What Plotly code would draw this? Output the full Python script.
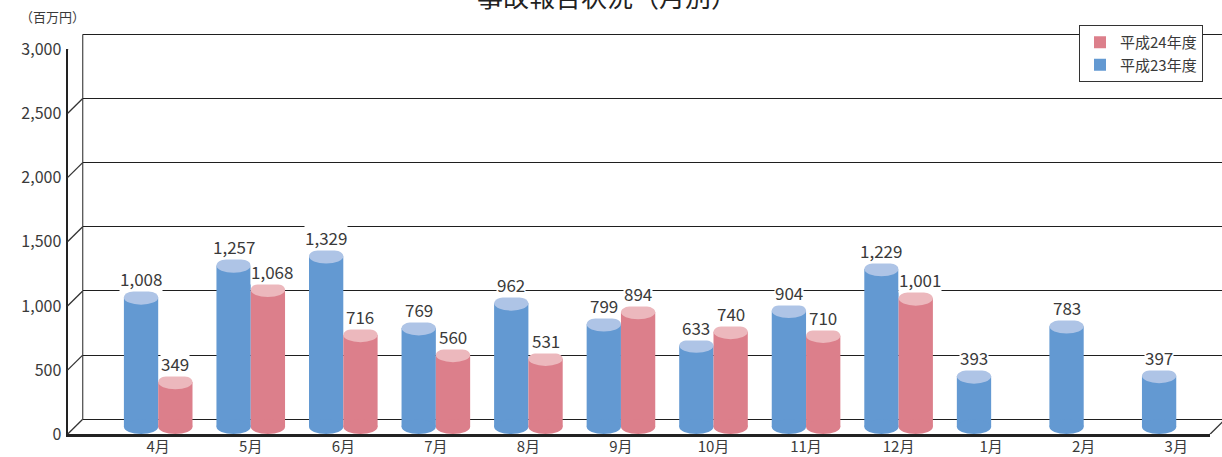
import plotly.graph_objects as go

# ---- data ----
months = ["4月", "5月", "6月", "7月", "8月", "9月", "10月", "11月", "12月", "1月", "2月", "3月"]
h23 = [1008, 1257, 1329, 769, 962, 799, 633, 904, 1229, 393, 783, 397]
h24 = [349, 1068, 716, 560, 531, 894, 740, 710, 1001, None, None, None]
series_names = ["平成23年度", "平成24年度"]
y_ticks = [0, 500, 1000, 1500, 2000, 2500, 3000]

# ---- style / geometry ----
W, H = 1222, 457
FONT = "Noto Sans CJK JP"
BLUE, BLUE_TOP = "#6399D2", "#AEC4E6"
RED, RED_TOP = "#DC7F8B", "#ECB8BD"
TXT = "#3a3a3a"

S = 64.17 / 500.0           # px per unit
FRONT0, BACK0, MID0 = 434.3, 419.3, 426.8
FRONT_X, BACK_X, FLOOR_END = 67.5, 82.7, 1210.0
CAT0, CAT_STEP = 158.2, 92.55
BAR_W = 0.3706               # in category units
BAR_W_PX = BAR_W * CAT_STEP
ELL_H = 7.3 / S              # ellipse half height in value units
DEPTH_UNITS = 15.0 / S
EXT = 2.0                    # px margin so edge gridlines are kept


def pxx(x):
    return x / W


def pyy(y):
    return 1 - y / H


def label_width(s):
    return sum(4.3 if c == "," else 9.4 for c in s)


fig = go.Figure()

# subplot 1 : back wall grid
fig.add_trace(go.Scatter(x=[], y=[], xaxis="x", yaxis="y", showlegend=False, hoverinfo="skip"))
# subplot 2 : front axis
fig.add_trace(go.Scatter(x=[], y=[], xaxis="x2", yaxis="y2", showlegend=False, hoverinfo="skip"))

idx = list(range(len(months)))
x_blue = [i - BAR_W / 2 for i in idx]
x_red = [i + BAR_W / 2 for i in idx]

fig.add_trace(go.Bar(x=x_blue, y=h23, width=BAR_W, name=series_names[0], marker=dict(color=BLUE, line=dict(width=0)),
                     xaxis="x3", yaxis="y3", hoverinfo="skip"))
fig.add_trace(go.Bar(x=x_red, y=h24, width=BAR_W, name=series_names[1], marker=dict(color=RED, line=dict(width=0)),
                     xaxis="x3", yaxis="y3", hoverinfo="skip"))

shapes = []
annotations = []
for si, (xs, vals, body, top) in enumerate([(x_blue, h23, BLUE, BLUE_TOP), (x_red, h24, RED, RED_TOP)]):
    for i, (x, v) in enumerate(zip(xs, vals)):
        if v is None:
            continue
        # bottom ellipse
        shapes.append(dict(type="circle", xref="x3", yref="y3", x0=x - BAR_W / 2, x1=x + BAR_W / 2,
                           y0=-ELL_H, y1=ELL_H, fillcolor=body, line=dict(width=0), layer="above"))
        # top ellipse
        shapes.append(dict(type="circle", xref="x3", yref="y3", x0=x - BAR_W / 2, x1=x + BAR_W / 2,
                           y0=v - ELL_H, y1=v + ELL_H, fillcolor=top, line=dict(width=0), layer="above"))
        txt = f"{v:,}"
        xshift = 0
        # push a wide label right when the taller left neighbour would be hidden by it
        if si == 1 and h23[i] is not None and h23[i] > v:
            half = label_width(txt) / 2
            if half > BAR_W_PX / 2:
                xshift = round(half - BAR_W_PX / 2 + 0.5)
        annotations.append(dict(xref="x3", yref="y3", x=x, y=v, text=txt, showarrow=False,
                                yanchor="middle", yshift=18.5, xshift=xshift, bgcolor="white", borderpad=0,
                                font=dict(family=FONT, size=17, color=TXT)))

# depth diagonals on the left wall
for t in y_ticks:
    shapes.append(dict(type="line", xref="paper", yref="y2", x0=pxx(FRONT_X), x1=pxx(BACK_X),
                       y0=t, y1=t + DEPTH_UNITS, line=dict(color="#333333", width=1.3), layer="above"))
# floor right diagonal
shapes.append(dict(type="line", xref="paper", yref="y2", x0=pxx(FLOOR_END), x1=pxx(FLOOR_END + 15),
                   y0=0, y1=DEPTH_UNITS, line=dict(color="#333333", width=1.3), layer="above"))

# title (cut off at top) and unit label
annotations.append(dict(xref="paper", yref="paper", x=pxx(606.5), y=1, text="事故報告状況（月別）",
                        showarrow=False, xanchor="center", yanchor="middle", yshift=5,
                        font=dict(family=FONT, size=26, color="#222222")))
annotations.append(dict(xref="paper", yref="paper", x=pxx(53), y=pyy(17), text="（百万円）",
                        showarrow=False, xanchor="center", yanchor="middle",
                        font=dict(family=FONT, size=13, color=TXT)))

fig.update_layout(
    width=W, height=H, autosize=False,
    margin=dict(l=0, r=0, t=0, b=0, pad=0, autoexpand=False),
    paper_bgcolor="white", plot_bgcolor="rgba(0,0,0,0)",
    barmode="overlay",
    font=dict(family=FONT, color=TXT),
    showlegend=True,
    hovermode=False,
    legend=dict(x=pxx(1079), y=pyy(25), xanchor="left", yanchor="top", traceorder="reversed",
                bgcolor="white", bordercolor="#333333", borderwidth=1,
                font=dict(family=FONT, size=15, color=TXT)),
    xaxis=dict(domain=[pxx(BACK_X), 1], range=[0, 1], visible=False, anchor="y", automargin=False),
    yaxis=dict(domain=[pyy(BACK0 + EXT), pyy(BACK0 - 385 - EXT)],
               range=[-EXT / S, 3000 + EXT / S], tickvals=y_ticks,
               showgrid=True, gridcolor="#1f1f1f", gridwidth=1.3, zeroline=False,
               showticklabels=False, showline=False,
               anchor="x", ticks="", automargin=False),
    xaxis2=dict(domain=[pxx(FRONT_X), pxx(FLOOR_END)], range=[0, 1], anchor="y2",
                showgrid=False, zeroline=False, showticklabels=False, showline=True,
                linecolor="#222222", linewidth=2.5, ticks="", automargin=False),
    yaxis2=dict(domain=[pyy(FRONT0), pyy(FRONT0 - 385)], range=[0, 3000], anchor="x2",
                tickvals=y_ticks, tickformat=",", showgrid=False, zeroline=False,
                showline=True, linecolor="#222222", linewidth=2, ticks="", ticklabelstandoff=1,
                tickfont=dict(family=FONT, size=16, color=TXT), automargin=False),
    xaxis3=dict(domain=[0, 1], range=[(0 - CAT0) / CAT_STEP, (W - CAT0) / CAT_STEP], anchor="y3",
                tickvals=idx, ticktext=months, showgrid=False, zeroline=False, showline=False,
                ticks="", ticklabelstandoff=2, tickfont=dict(family=FONT, size=15, color=TXT),
                automargin=False),
    yaxis3=dict(domain=[pyy(FRONT0), 1], range=[-(FRONT0 - MID0) / S, MID0 / S], anchor="x3",
                visible=False, showgrid=False, zeroline=False, automargin=False),
    shapes=shapes,
    annotations=annotations,
)

# back wall vertical edge, drawn from the back-wall axis scale
shapes_extra = [dict(type="line", xref="paper", yref="y", x0=pxx(BACK_X), x1=pxx(BACK_X),
                     y0=y_ticks[0], y1=y_ticks[-1], line=dict(color="#555555", width=1.3), layer="below")]
fig.update_layout(shapes=list(fig.layout.shapes) + shapes_extra)

fig.write_html("out.html", config={"displayModeBar": False},
               post_script="document.body.style.margin='0px';")
